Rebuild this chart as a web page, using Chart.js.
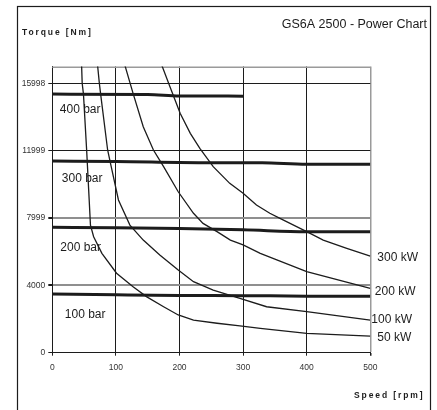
<!DOCTYPE html>
<html>
<head>
<meta charset="utf-8">
<script src="https://cdn.jsdelivr.net/npm/chart.js@4/dist/chart.umd.min.js"></script>
<style>
  html, body { margin: 0; padding: 0; background: #fff; }
  #wrap { width: 437px; height: 410px; }
</style>
</head>
<body>
<div id="wrap"><canvas id="chart" width="437" height="410"></canvas></div>
<script>
// Axis ticks
const speedTicks = [0, 100, 200, 300, 400, 500];
const torqueTickValues = [0, 3999.5, 7999, 11998.5, 15998];
const torqueTickLabels = ['0', '4000', '7999', '11999', '15998'];

// Constant-pressure torque lines (rpm / Nm)
const pressureNames = ['400 bar', '300 bar', '200 bar', '100 bar'];
const speed400bar = [0, 150, 200, 300];
const torque400bar = [15360, 15340, 15250, 15240];
const speed300bar = [0, 100, 230, 330, 400, 500];
const torque300bar = [11380, 11360, 11290, 11280, 11190, 11190];
const speed200bar = [0, 100, 200, 300, 400, 500];
const torque200bar = [7450, 7420, 7370, 7300, 7190, 7190];
const speed100bar = [0, 100, 200, 300, 400, 500];
const torque100bar = [3490, 3440, 3400, 3390, 3360, 3360];

// Constant-power curves (rpm / Nm)
const powerNames = ['300 kW', '200 kW', '100 kW', '50 kW'];
const speed300kW = [172, 185, 201, 217, 232, 253, 279, 300, 321, 342, 358, 400, 426, 463, 500];
const torque300kW = [17090, 15800, 14220, 13030, 12140, 11050, 10060, 9470, 8770, 8280, 7980, 7190, 6690, 6200, 5740];
const speed200kW = [114, 127, 143, 159, 175, 198, 222, 237, 259, 280, 300, 327, 353, 400, 500];
const torque200kW = [17090, 15400, 13420, 12040, 11050, 9560, 8280, 7680, 7190, 6690, 6400, 5900, 5510, 4810, 3820];
const speed100kW = [71, 74, 76, 87, 91, 104, 122, 143, 169, 198, 222, 253, 295, 337, 400, 500];
const torque100kW = [17140, 16000, 15360, 12040, 11340, 9070, 7580, 6690, 5800, 4910, 4220, 3720, 3230, 2730, 2440, 1940];
const speed50kW = [46, 47, 49, 54, 58, 60, 65, 78, 101, 127, 148, 175, 198, 222, 259, 295, 327, 400, 500];
const torque50kW = [17150, 16000, 15360, 12040, 9070, 7580, 6890, 5900, 4720, 3920, 3330, 2730, 2240, 1940, 1750, 1590, 1450, 1150, 990];

const FONT = "'Liberation Sans', Arial, Helvetica, sans-serif";
const INK = '#1c1c1c';

const toPoints = (xs, ys) => xs.map((x, i) => ({ x: x, y: ys[i] }));

const pressureSeries = [
  toPoints(speed400bar, torque400bar),
  toPoints(speed300bar, torque300bar),
  toPoints(speed200bar, torque200bar),
  toPoints(speed100bar, torque100bar)
];
const powerSeries = [
  toPoints(speed300kW, torque300kW),
  toPoints(speed200kW, torque200kW),
  toPoints(speed100kW, torque100kW),
  toPoints(speed50kW, torque50kW)
];

const datasets = [];
pressureSeries.forEach((pts, i) => datasets.push({
  label: pressureNames[i], data: pts,
  borderColor: INK, borderWidth: 3, pointRadius: 0,
  cubicInterpolationMode: 'monotone', fill: false
}));
powerSeries.forEach((pts, i) => datasets.push({
  label: powerNames[i], data: pts,
  borderColor: INK, borderWidth: 1.3, pointRadius: 0,
  tension: 0, fill: false
}));

// label placement relative to the lines they name
const pressureLabelOffset = [[7.5, 15.3], [9.5, 17.3], [8, 20], [12.5, 21]];
const powerLabelOffset = [[7, 1.5], [4.5, 3.3], [1, -0.5], [7, 1.3]];

const decor = {
  id: 'decor',
  beforeDraw(chart) {
    const ctx = chart.ctx;
    ctx.save();
    ctx.fillStyle = '#fff';
    ctx.fillRect(0, 0, chart.width, chart.height);
    ctx.strokeStyle = INK;
    ctx.lineWidth = 1.2;
    ctx.strokeRect(17.5, 6.5, 413, 440);
    ctx.restore();
  },
  beforeDatasetsDraw(chart) {
    const { ctx, chartArea: a } = chart;
    ctx.save();
    ctx.strokeStyle = '#9a9a9a';
    ctx.lineWidth = 1.5;
    ctx.beginPath();
    ctx.moveTo(a.left, Math.round(a.top) + 0.25);
    ctx.lineTo(a.right, Math.round(a.top) + 0.25);
    ctx.stroke();
    ctx.restore();
  },
  afterDraw(chart) {
    const { ctx, chartArea: a } = chart;
    const xs = chart.scales.x, ys = chart.scales.y;
    ctx.save();
    ctx.fillStyle = INK;
    ctx.textBaseline = 'middle';

    ctx.font = '12.5px ' + FONT;
    ctx.textAlign = 'right';
    ctx.fillText('GS6A 2500 - Power Chart', 427, 25);

    ctx.font = 'bold 8.5px ' + FONT;
    ctx.letterSpacing = '1.9px';
    ctx.textAlign = 'left';
    ctx.fillText('Torque [Nm]', 22, 33);
    ctx.textAlign = 'right';
    ctx.fillText('Speed [rpm]', 424.5, 396);
    ctx.letterSpacing = '0px';

    ctx.font = '12px ' + FONT;
    ctx.textAlign = 'left';
    pressureSeries.forEach((pts, i) => {
      const [dx, dy] = pressureLabelOffset[i];
      ctx.fillText(pressureNames[i], xs.getPixelForValue(pts[0].x) + dx, ys.getPixelForValue(pts[0].y) + dy);
    });
    powerSeries.forEach((pts, i) => {
      const last = pts[pts.length - 1];
      const [dx, dy] = powerLabelOffset[i];
      ctx.fillText(powerNames[i], a.right + dx, ys.getPixelForValue(last.y) + dy);
    });
    ctx.restore();
  }
};

new Chart(document.getElementById('chart'), {
  type: 'line',
  data: { datasets },
  options: {
    responsive: false,
    animation: false,
    devicePixelRatio: 1,
    layout: { padding: { left: 0, top: 66.5, right: 66.7, bottom: 33.3 } },
    plugins: { legend: { display: false }, tooltip: { enabled: false } },
    scales: {
      x: {
        type: 'linear', min: 0, max: 500,
        afterFit(scale) { scale.height = 24; },
        afterBuildTicks(scale) { scale.ticks = speedTicks.map(v => ({ value: v })); },
        border: { color: INK, width: 1 },
        grid: {
          color: c => (c.tick && c.tick.value === 500) ? '#9a9a9a' : INK,
          lineWidth: c => (c.tick && c.tick.value === 500) ? 1.5 : 1,
          tickColor: INK, tickLength: 3
        },
        ticks: {
          autoSkip: false, maxRotation: 0, padding: 7,
          color: '#333', font: { family: FONT, size: 8.5 },
          callback: v => String(v)
        }
      },
      y: {
        type: 'linear', min: 0, max: 17000,
        afterFit(scale) { scale.width = 52.3; },
        afterBuildTicks(scale) { scale.ticks = torqueTickValues.map(v => ({ value: v })); },
        border: { color: INK, width: 1 },
        grid: {
          color: c => (c.tick && (c.tick.value === 3999.5 || c.tick.value === 7999)) ? '#8f8f8f' : INK,
          lineWidth: c => (c.tick && (c.tick.value === 3999.5 || c.tick.value === 7999)) ? 2 : 1,
          tickColor: INK, tickLength: 4
        },
        ticks: {
          autoSkip: false, padding: 3,
          color: '#333', font: { family: FONT, size: 8.5 },
          callback: (v, i) => torqueTickLabels[i]
        }
      }
    }
  },
  plugins: [decor]
});
</script>
</body>
</html>
